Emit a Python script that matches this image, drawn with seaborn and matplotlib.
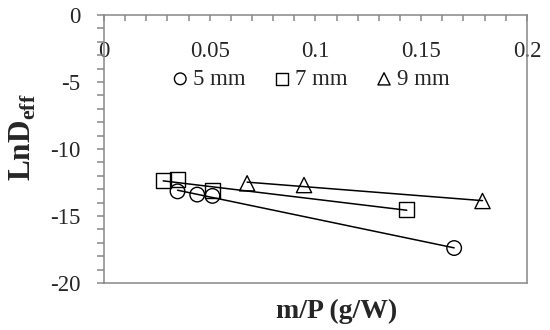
import numpy as np
import pandas as pd
import matplotlib
matplotlib.use('Agg')
import matplotlib.pyplot as plt
import seaborn as sns
from matplotlib.ticker import MultipleLocator, FuncFormatter

# data (m/P in g/W, LnDeff)
x_5mm = [0.0348, 0.0441, 0.0513, 0.1656]
y_5mm = [-13.16, -13.40, -13.50, -17.39]
x_7mm = [0.0280, 0.0349, 0.0515, 0.1432]
y_7mm = [-12.37, -12.30, -13.08, -14.53]
x_9mm = [0.0677, 0.0946, 0.1790]
y_9mm = [-12.56, -12.69, -13.88]
labels = ['5 mm', '7 mm', '9 mm']
markers = ['o', 's', '^']

sns.set_style('ticks')
plt.rcParams['font.family'] = ['Liberation Serif', 'DejaVu Serif']
plt.rcParams['mathtext.fontset'] = 'custom'
plt.rcParams['mathtext.rm'] = 'Liberation Serif'
plt.rcParams['mathtext.bf'] = 'Liberation Serif:bold'
plt.rcParams['axes.unicode_minus'] = False

gray = '#888888'
fig = plt.figure(figsize=(5.5, 3.3), dpi=100)
ax = fig.add_axes([0.189, 0.1424, 0.769, 0.8121])

series = [(x_5mm, y_5mm), (x_7mm, y_7mm), (x_9mm, y_9mm)]
handles = []
for (xs, ys), lab, mk in zip(series, labels, markers):
    df = pd.DataFrame({'x': xs, 'y': ys})
    sns.regplot(data=df, x='x', y='y', ax=ax, scatter=False, ci=None,
                truncate=True, color='black', line_kws={'linewidth': 1.1})
    h = ax.scatter(df['x'], df['y'], marker=mk, s=120 if mk != 'o' else 110,
                   facecolors='none', edgecolors='black', linewidths=1.0,
                   label=lab, zorder=3)
    handles.append(h)

ax.set_xlim(0, 0.2)
ax.set_ylim(-20, 0)

for sp in ax.spines.values():
    sp.set_visible(True)
    sp.set_color(gray)
    sp.set_linewidth(1.1)

ax.xaxis.set_major_locator(MultipleLocator(0.05))
ax.xaxis.set_minor_locator(MultipleLocator(0.01))
ax.xaxis.set_major_formatter(FuncFormatter(lambda v, p: '%g' % round(v, 3)))
ax.tick_params(axis='x', which='both', top=True, bottom=False, labeltop=True,
               labelbottom=False, direction='in', length=4, color=gray, width=1.1)
ax.tick_params(axis='x', which='major', pad=-34, labelsize=16.5)

ax.yaxis.set_major_locator(MultipleLocator(5))
ax.yaxis.set_minor_locator(MultipleLocator(1))
ax.tick_params(axis='y', which='both', direction='out', length=5, color=gray,
               width=1.1, pad=12, labelsize=16.5)

ax.set_xlabel('m/P (g/W)', fontsize=20, fontweight='bold')
ax.xaxis.set_label_position('bottom')
ax.xaxis.set_label_coords(0.551, -0.06)
ax.xaxis.label.set_va('top')
ax.set_ylabel(r'LnD$_{\mathbf{eff}}$', fontsize=22.5, fontweight='bold')
ax.yaxis.set_label_coords(-0.156, 0.545)

ax.legend(handles=handles, labels=labels, loc='center', bbox_to_anchor=(0.485, 0.76),
          ncol=3, frameon=False, fontsize=16.5, handletextpad=0.05,
          columnspacing=1.1, handlelength=1.0, borderpad=0, markerscale=0.8)

fig.savefig('out.png', dpi=100)
